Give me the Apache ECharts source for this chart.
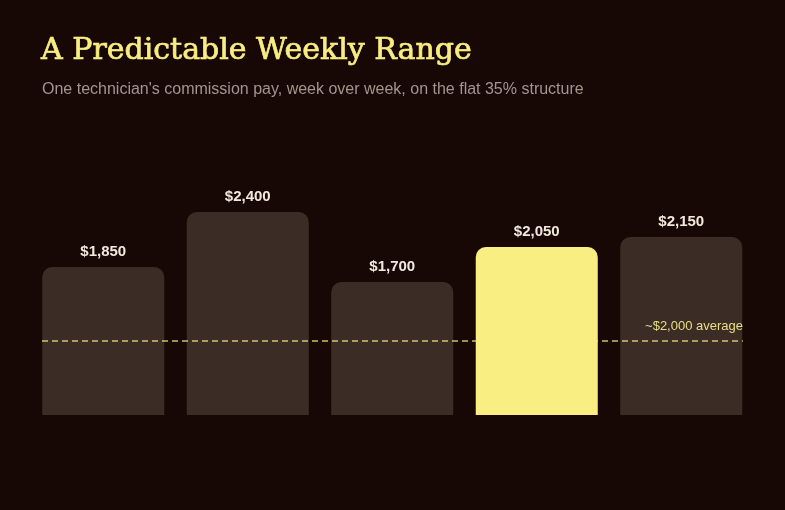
<!DOCTYPE html>
<html><head><meta charset="utf-8">
<script src="https://cdn.jsdelivr.net/npm/echarts@6/dist/echarts.min.js"></script>
<style>html,body{margin:0;padding:0;background:#170805;}#c{width:785px;height:510px;}</style>
</head><body><div id="c"></div>
<script>
const weeks = ['Week 1','Week 2','Week 3','Week 4','Week 5'];
const pay = [1850, 2400, 1700, 2050, 2150];
const highlightIndex = 3;
const averageValue = 2000;
const averageLabel = '~$2,000 average';
const titleText = 'A Predictable Weekly Range';
const subtitleText = "One technician's commission pay, week over week, on the flat 35% structure";

const fmt = v => '$' + v.toLocaleString('en-US');
const chart = echarts.init(document.getElementById('c'));
chart.setOption({
  backgroundColor: '#170805',
  animation: false,
  title: [
    { text: titleText, left: 41, top: 36, padding: 0,
      textStyle: { fontFamily: 'DejaVu Serif', fontSize: 30, fontWeight: 'normal', color: '#f9ec80',
        textBorderColor: '#f9ec80', textBorderWidth: 0.7 } },
    { text: subtitleText, left: 42, top: 82, padding: 0,
      textStyle: { fontFamily: 'Liberation Sans', fontSize: 16, fontWeight: 'normal', color: '#a2968d' } }
  ],
  grid: [
    { left: 31, right: 31.5, top: 165, bottom: 95 },
    { left: 42, right: 42, top: 165, bottom: 95 }
  ],
  xAxis: [
    { type: 'category', data: weeks, gridIndex: 0, show: false },
    { type: 'category', data: weeks, gridIndex: 1, show: false }
  ],
  yAxis: [
    { type: 'value', gridIndex: 0, min: 370, max: 2870, show: false, splitLine: { show: false } },
    { type: 'value', gridIndex: 1, min: 0, max: 6750, show: false, splitLine: { show: false } }
  ],
  series: [
    {
      type: 'bar', xAxisIndex: 0, yAxisIndex: 0, barWidth: 122,
      data: pay.map((v, i) => ({
        value: v,
        itemStyle: { color: i === highlightIndex ? '#f9ee82' : '#3b2d26' }
      })),
      itemStyle: { borderRadius: [10, 10, 0, 0] },
      label: { show: true, position: 'top', distance: 8, formatter: p => fmt(p.value),
        fontFamily: 'Liberation Sans', fontSize: 15, fontWeight: 'bold', color: '#f2e9de' }
    },
    {
      type: 'line', xAxisIndex: 1, yAxisIndex: 1, data: [], silent: true,
      markLine: {
        symbol: ['none', 'none'], silent: true,
        lineStyle: { color: 'rgba(249,236,127,0.6)', type: [6, 4], width: 2 },
        label: { show: true, position: 'insideEndTop', formatter: averageLabel, distance: [0, 8],
          fontFamily: 'Liberation Sans', fontSize: 13, color: '#ebdf82' },
        data: [{ yAxis: averageValue }]
      }
    }
  ]
});
</script></body></html>
